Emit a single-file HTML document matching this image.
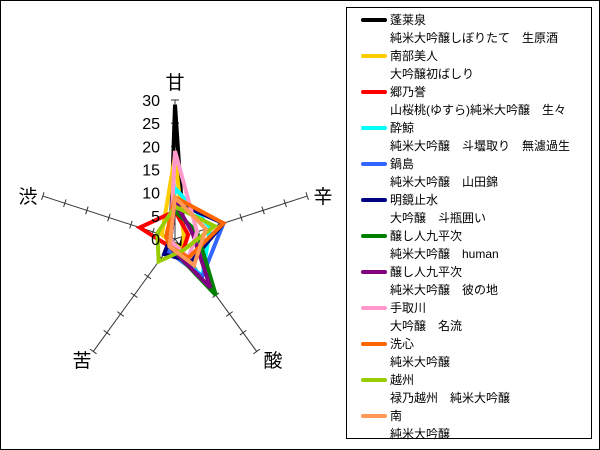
<!DOCTYPE html>
<html><head><meta charset="utf-8"><style>
body{margin:0;background:#fff}
#w{position:relative;width:600px;height:450px;overflow:hidden;font-family:"Liberation Sans","Noto Sans CJK JP",sans-serif}
#f{position:absolute;left:0;top:0;width:598px;height:448px;border:1px solid #000}
#lg{position:absolute;left:346px;top:7px;width:246px;height:432px;border:1px solid #000;box-sizing:border-box}
.e{position:absolute;left:0;font-size:12px;line-height:18px;color:#000;white-space:nowrap}
.sw{position:absolute;left:14px;top:7px;width:26px;height:4px;border-radius:2px}
.t{position:absolute;left:43px;top:0px}
.t2{position:absolute;left:43px;top:18px}
</style></head><body><div id="w"><div id="f"></div>
<svg id="s" width="600" height="450" style="position:absolute;left:0;top:0" font-family="Liberation Sans, Noto Sans CJK JP, sans-serif"></svg>
<div id="lg"></div></div>
<script>
var cx=175,cy=239,R=139,u=R/30;
var ang=[90,18,-54,-126,162].map(a=>a*Math.PI/180);
function P(i,v){return [cx+v*u*Math.cos(ang[i]),cy-v*u*Math.sin(ang[i])];}
var s='';
for(var i=0;i<5;i++){var e=P(i,30);s+='<line x1="'+cx+'" y1="'+cy+'" x2="'+e[0]+'" y2="'+e[1]+'" stroke="#333" stroke-width="1"/>';
for(var k=5;k<=30;k+=5){var p=P(i,k);var px=-Math.sin(ang[i])*4,py=-Math.cos(ang[i])*4;
s+='<line x1="'+(p[0]-px)+'" y1="'+(p[1]-py)+'" x2="'+(p[0]+px)+'" y2="'+(p[1]+py)+'" stroke="#333"/>';}}
var data=[
['#000',[29,2,2,1,1]],['#ffcc00',[18,2,3,1,3]],['#ff0000',[6,3,3,2,8]],['#00ffff',[11,8,10,2,1]],
['#3366ff',[8,11,10,3,1]],['#000080',[8,11,6,4,1]],['#008000',[6,5,15,2,2]],['#800080',[8,4,13,2,1]],
['#ff99cc',[19,5,5,1,1]],['#ff6600',[9,11,5,2,2]],['#99cc00',[7,9,3,6,4]],['#ff9955',[9,7,7,2,1]]];
data.forEach(d=>{var pts=d[1].map((v,i)=>P(i,v).join(',')).join(' ');
s+='<polygon points="'+pts+'" fill="none" stroke="'+d[0]+'" stroke-width="4" stroke-linejoin="miter"/>';});
for(var k=0;k<=30;k+=5){s+='<text x="160" y="'+(cy-k*u+6)+'" font-size="16" text-anchor="end">'+k+'</text>';}
s+='<text x="175" y="89" font-size="19" text-anchor="middle">甘</text>';
s+='<text x="323" y="203" font-size="19" text-anchor="middle">辛</text>';
s+='<text x="273" y="367" font-size="19" text-anchor="middle">酸</text>';
s+='<text x="82" y="367" font-size="19" text-anchor="middle">苦</text>';
s+='<text x="28" y="203" font-size="19" text-anchor="middle">渋</text>';
document.getElementById('s').innerHTML=s;
var L=[['蓬莱泉','純米大吟醸しぼりたて　生原酒'],['南部美人','大吟醸初ばしり'],['郷乃誉','山桜桃(ゆすら)純米大吟醸　生々'],['酔鯨','純米大吟醸　斗壜取り　無濾過生'],['鍋島','純米大吟醸　山田錦'],['明鏡止水','大吟醸　斗瓶囲い'],['醸し人九平次','純米大吟醸　human'],['醸し人九平次','純米大吟醸　彼の地'],['手取川','大吟醸　名流'],['洗心','純米大吟醸'],['越州','禄乃越州　純米大吟醸'],['南','純米大吟醸']];
var h='';L.forEach((l,i)=>{h+='<div class="e" style="top:'+(3+i*36)+'px"><div class="sw" style="background:'+data[i][0]+'"></div><div class="t">'+l[0]+'</div><div class="t2">'+l[1]+'</div></div>';});
document.getElementById('lg').innerHTML=h;
</script></body></html>
